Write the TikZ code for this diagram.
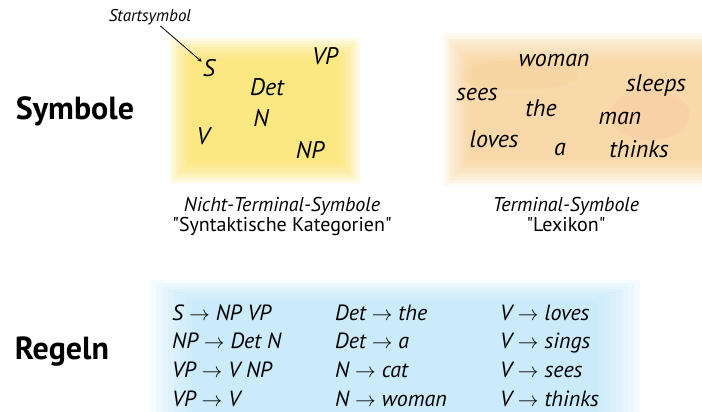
\documentclass[tikz,border=0pt]{standalone}
\usepackage{fontspec}
\setmainfont{PT Sans}
\usetikzlibrary{arrows,positioning}

\definecolor{wasgelb}{RGB}{250,224,90}
\definecolor{wasorange}{RGB}{246,200,130}
\definecolor{wasrosa}{RGB}{245,175,150}
\definecolor{wasblau}{RGB}{175,224,248}

\tikzset{
  kat/.style={font=\fontsize{24}{28}\selectfont\itshape, inner sep=1pt},
  titel/.style={font=\fontsize{32}{36}\selectfont\bfseries},
  regel/.style={font=\fontsize{22}{26}\selectfont\itshape, anchor=base west, inner sep=0pt},
  notiz/.style={font=\fontsize{20}{23}\selectfont, inner sep=1pt}
}

\begin{document}
\begin{tikzpicture}[x=1pt,y=-1pt]
  \useasboundingbox (0,0) rectangle (702,412);

  % watercolour patches
  \foreach \k in {0,...,7}
    \fill[wasgelb,opacity=0.16] (170+3*\k,38+3*\k) rectangle (360-3*\k,183-3*\k);
  \foreach \k in {0,...,9}
    \fill[wasorange,opacity=0.11] (443+3*\k,33+3*\k) rectangle (702,186-3*\k);
  \fill[wasrosa,opacity=0.15] (650,115) ellipse (40 and 25);
  \fill[wasorange,opacity=0.15] (520,75) ellipse (60 and 15);
  \foreach \k in {0,...,7}
    \fill[wasblau,opacity=0.12] (150+6*\k,280+3*\k) rectangle (640-6*\k,412);

  \node[titel] (symbole) at (75,111) {Symbole};
  \node[titel] (regeln) at (62,352) {Regeln};

  % Nicht-Terminal-Symbole
  \node[kat] (S) at (209,68) {S};
  \node[kat] (VP) at (325,56) {VP};
  \node[kat] (Det) at (267,87) {Det};
  \node[kat] (N) at (261,118) {N};
  \node[kat] (V) at (203,136) {V};
  \node[kat] (NP) at (310,150) {NP};

  \node[notiz,font=\fontsize{17}{20}\selectfont\itshape] (start) at (150,17) {Startsymbol};
  \draw[->,>=stealth,thick] (start) -- (S);

  % Terminal-Symbole
  \node[kat] (woman) at (554,60) {woman};
  \node[kat] (sleeps) at (656,86) {sleeps};
  \node[kat] (sees) at (477,95) {sees};
  \node[kat] (the) at (541,108) {the};
  \node[kat] (man) at (620,118) {man};
  \node[kat] (loves) at (494,139) {loves};
  \node[kat] (a) at (560,149) {a};
  \node[kat] (thinks) at (639,149) {thinks};

  \node[notiz,font=\fontsize{20}{23}\selectfont\itshape] (ntlabel) at (282,206) {Nicht-Terminal-Symbole};
  \node[notiz,below=0pt of ntlabel] (ntname) {\textquotedbl Syntaktische Kategorien\textquotedbl};
  \node[notiz,font=\fontsize{20}{23}\selectfont\itshape] (tlabel) at (566,206) {Terminal-Symbole};
  \node[notiz,below=0pt of tlabel] (tname) {\textquotedbl Lexikon\textquotedbl};

  % Regeln
  \foreach \r [count=\i] in {{S $\rightarrow$ NP VP},{NP $\rightarrow$ Det N},{VP $\rightarrow$ V NP},{VP $\rightarrow$ V}}
    \node[regel] (a\i) at (172,291.3+28.7*\i) {\r};
  \foreach \r [count=\i] in {{Det $\rightarrow$ the},{Det $\rightarrow$ a},{N $\rightarrow$ cat},{N $\rightarrow$ woman}}
    \node[regel] (b\i) at (335,291.3+28.7*\i) {\r};
  \foreach \r [count=\i] in {{V $\rightarrow$ loves},{V $\rightarrow$ sings},{V $\rightarrow$ sees},{V $\rightarrow$ thinks}}
    \node[regel] (c\i) at (500,291.3+28.7*\i) {\r};
\end{tikzpicture}
\end{document}
